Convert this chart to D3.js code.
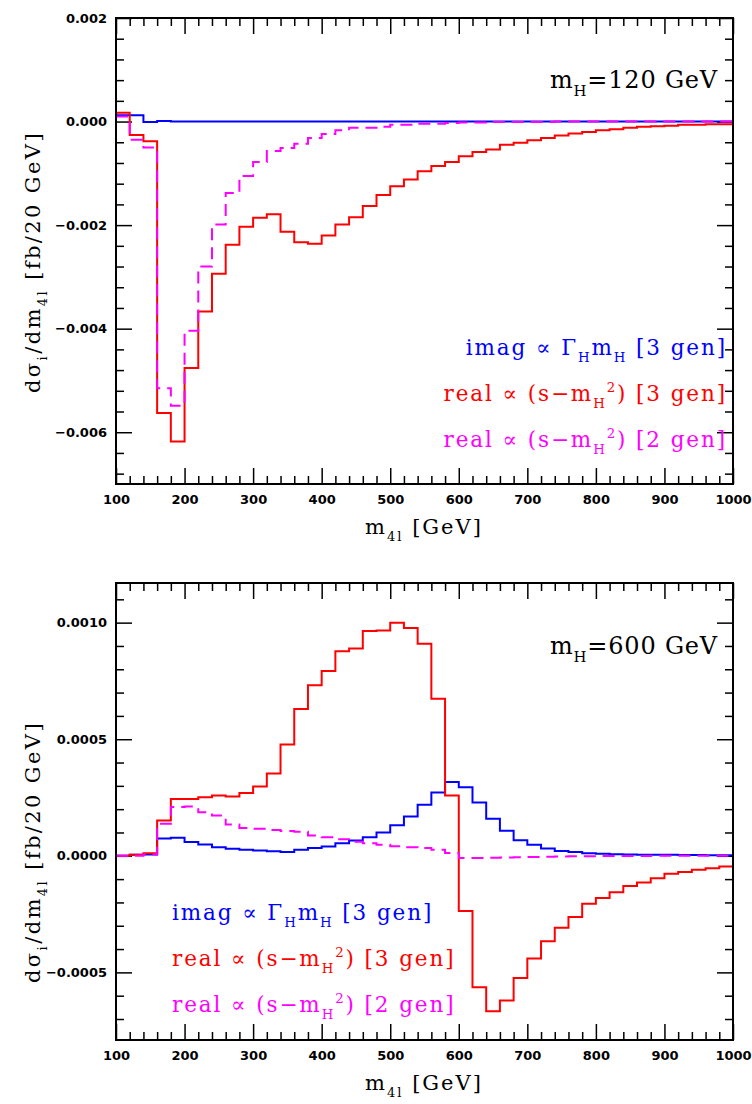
<!DOCTYPE html>
<html><head><meta charset="utf-8">
<script src="https://cdn.jsdelivr.net/npm/d3@7"></script>
<style>body{margin:0;background:#fff}</style></head>
<body>
<svg id="c" width="752" height="1104"></svg>
<script>
// bin lower edges (GeV), 20 GeV bins from 100 to 1000
const binEdges = [100,120,140,160,180,200,220,240,260,280,300,320,340,360,380,400,420,440,460,480,
                  500,520,540,560,580,600,620,640,660,680,700,720,740,760,780,800,820,840,860,880,
                  900,920,940,960,980];
const xMax = 1000;
const xMajorTicks = [100,200,300,400,500,600,700,800,900,1000];

// values in units of 1e-3 fb/20 GeV
// --- mH = 120 GeV ---
const imag120 = [0.12,0.12,-0.01,0.01,0,0,0,0,0,0,0,0,0,0,0,0,0,0,0,0,
                 0,0,0,0,0,0,0,0,0,0,0,0,0,0,0,0,0,0,0,0,0,0,0,0,0];
const real3gen120 = [0.17,-0.26,-0.38,-5.63,-6.18,-4.76,-3.67,-2.94,-2.38,-2.03,-1.86,-1.79,-2.13,-2.33,-2.36,-2.20,-1.99,-1.85,-1.63,-1.42,
                     -1.25,-1.12,-0.96,-0.86,-0.78,-0.67,-0.59,-0.54,-0.45,-0.41,-0.36,-0.32,-0.27,-0.23,-0.20,-0.17,-0.15,-0.12,-0.10,-0.09,
                     -0.08,-0.06,-0.06,-0.05,-0.05];
const real2gen120 = [0.10,-0.35,-0.50,-5.15,-5.49,-4.04,-2.80,-1.99,-1.38,-1.05,-0.78,-0.57,-0.51,-0.43,-0.32,-0.24,-0.17,-0.12,-0.12,-0.10,
                     -0.06,-0.06,-0.04,-0.04,-0.03,-0.02,-0.02,-0.01,-0.01,-0.01,-0.01,-0.01,0,0,0,0,0,0,0,0,
                     0,0,0,0,0];
// --- mH = 600 GeV ---
const imag600 = [0,0.004,0.006,0.074,0.077,0.059,0.049,0.037,0.030,0.026,0.023,0.019,0.016,0.026,0.033,0.040,0.054,0.066,0.080,0.100,
                 0.131,0.169,0.219,0.271,0.316,0.294,0.229,0.159,0.107,0.067,0.047,0.031,0.021,0.016,0.011,0.009,0.007,0.006,0.005,0.004,
                 0.004,0.003,0.003,0.002,0.002];
const real3gen600 = [0,0.005,0.011,0.151,0.244,0.244,0.251,0.259,0.254,0.269,0.297,0.353,0.477,0.630,0.731,0.793,0.877,0.889,0.964,0.966,
                     0.999,0.977,0.909,0.674,0.259,-0.237,-0.564,-0.667,-0.621,-0.524,-0.440,-0.367,-0.309,-0.263,-0.206,-0.181,-0.156,-0.130,-0.114,-0.096,
                     -0.077,-0.069,-0.060,-0.053,-0.046];
const real2gen600 = [0,0,0.006,0.137,0.209,0.211,0.187,0.173,0.134,0.119,0.116,0.111,0.106,0.103,0.087,0.080,0.071,0.060,0.054,0.047,
                     0.041,0.037,0.033,0.026,0.012,-0.009,-0.009,-0.008,-0.007,-0.006,-0.005,-0.004,-0.003,-0.002,-0.002,-0.001,-0.001,-0.001,-0.001,0,
                     0,0,0,0,0];

const yMajor120 = [2,0,-2,-4,-6];
const yMinor120 = [1.6,1.2,0.8,0.4,-0.4,-0.8,-1.2,-1.6,-2.4,-2.8,-3.2,-3.6,-4.4,-4.8,-5.2,-5.6,-6.4,-6.8];
const yMajor600 = [1.0,0.5,0,-0.5];
const yMinor600 = [1.1,0.9,0.8,0.7,0.6,0.4,0.3,0.2,0.1,-0.1,-0.2,-0.3,-0.4,-0.6,-0.7];

const svg = d3.select('#c');
const serif = "'DejaVu Serif', serif";
const sans = "'DejaVu Sans', sans-serif";

function rich(text, parts, size) {
  let shift = 0;
  parts.forEach(([t, m]) => {
    const target = m === 'sub' ? size*0.32 : m === 'sup' ? -size*0.42 : 0;
    const ts = text.append('tspan').attr('dy', target - shift).text(t);
    if (m) ts.attr('font-size', size*0.62);
    shift = target;
  });
}

function panel(cfg) {
  const L = 116, R = 733;
  const x = d3.scaleLinear().domain([100, 1000]).range([L, R]);
  const y = d3.scaleLinear().domain(cfg.yDomain).range([cfg.bottom, cfg.top]);
  const g = svg.append('g');
  const xMinor = d3.range(100, 1001, 20).filter(v => v % 100 !== 0);

  function ax(axis, tx, ty, vals, size, fmt, pad) {
    const a = g.append('g').attr('transform', `translate(${tx},${ty})`)
      .call(axis.tickValues(vals).tickSizeInner(-size).tickSizeOuter(0).tickPadding(pad||0).tickFormat(fmt || (() => '')));
    a.select('.domain').remove();
    a.selectAll('line').attr('stroke', '#000').attr('stroke-width', 1.5);
    a.selectAll('text').attr('font-family', sans).attr('font-weight', 'bold').attr('font-size', 13).attr('fill', '#000');
    return a;
  }
  ax(d3.axisBottom(x), 0, cfg.bottom, xMajorTicks, 16, d => d, 11);
  ax(d3.axisBottom(x), 0, cfg.bottom, xMinor, 8);
  ax(d3.axisTop(x), 0, cfg.top, xMajorTicks, 16);
  ax(d3.axisTop(x), 0, cfg.top, xMinor, 8);
  ax(d3.axisLeft(y), L, 0, cfg.yMajor, 16, cfg.fmt, 9);
  ax(d3.axisLeft(y), L, 0, cfg.yMinor, 8);
  ax(d3.axisRight(y), R, 0, cfg.yMajor, 16);
  ax(d3.axisRight(y), R, 0, cfg.yMinor, 8);

  const clipId = 'clip' + cfg.top;
  g.append('clipPath').attr('id', clipId).append('rect')
    .attr('x', L).attr('y', cfg.top).attr('width', R - L).attr('height', cfg.bottom - cfg.top);

  const line = d3.line().x(d => x(d[0])).y(d => y(d[1])).curve(d3.curveStepAfter);
  cfg.series.forEach(s => {
    const pts = binEdges.map((e, i) => [e, s.values[i]]);
    pts.push([xMax, s.values[s.values.length - 1]]);
    g.append('path').attr('d', line(pts)).attr('fill', 'none')
      .attr('stroke', s.color).attr('stroke-width', 2)
      .attr('stroke-dasharray', s.dash || null)
      .attr('clip-path', `url(#${clipId})`);
  });

  g.append('rect').attr('x', L).attr('y', cfg.top).attr('width', R - L).attr('height', cfg.bottom - cfg.top)
    .attr('fill', 'none').attr('stroke', '#000').attr('stroke-width', 2);

  // x title
  const xt = g.append('text').attr('x', 424).attr('y', cfg.bottom + 50).attr('text-anchor', 'middle')
    .attr('font-family', serif).attr('font-size', 21).attr('letter-spacing', 2).attr('fill', '#000');
  rich(xt, [['m', 0], ['4l', 'sub'], [' [GeV]', 0]], 21);

  // y title
  const yt = g.append('text').attr('transform', `translate(40,${cfg.yTitleY}) rotate(-90)`)
    .attr('text-anchor', 'middle').attr('font-family', serif).attr('font-size', 21)
    .attr('letter-spacing', 2.4).attr('fill', '#000');
  rich(yt, [['dσ', 0], ['i', 'sub'], ['/dm', 0], ['4l', 'sub'], [' [fb/20 GeV]', 0]], 21);

  // mass label
  const ml = g.append('text').attr('x', 718).attr('y', cfg.labelY).attr('text-anchor', 'end')
    .attr('font-family', serif).attr('font-size', 24).attr('letter-spacing', 0.8).attr('fill', '#000');
  rich(ml, [['m', 0], ['H', 'sub'], ['=' + cfg.mass + ' GeV', 0]], 24);

  // legend
  const lg = [
    {c: '#0000ff', p: [['imag ∝ Γ', 0], ['H', 'sub'], ['m', 0], ['H', 'sub'], [' [3 gen]', 0]]},
    {c: '#ff0000', p: [['real ∝ (s−m', 0], ['H', 'sub'], ['2', 'sup'], [') [3 gen]', 0]]},
    {c: '#ff00ff', p: [['real ∝ (s−m', 0], ['H', 'sub'], ['2', 'sup'], [') [2 gen]', 0]]}
  ];
  lg.forEach((l, i) => {
    const t = g.append('text').attr('x', cfg.legX).attr('y', cfg.legY + i * cfg.legDy)
      .attr('text-anchor', cfg.legAnchor).attr('font-family', serif).attr('font-size', 21.5)
      .attr('letter-spacing', 1.9).attr('fill', l.c);
    rich(t, l.p, 21.5);
  });
}

panel({
  top: 18, bottom: 484, yDomain: [-7, 2], yMajor: yMajor120, yMinor: yMinor120,
  fmt: d => (d === 0 ? '0.000' : (d < 0 ? '−' : '') + Math.abs(d * 1e-3).toFixed(3)),
  yTitleY: 262, labelY: 88, mass: 120,
  legX: 727, legY: 355, legDy: 46, legAnchor: 'end',
  series: [
    {values: imag120, color: '#0000ff'},
    {values: real3gen120, color: '#ff0000'},
    {values: real2gen120, color: '#ff00ff', dash: '12,7'}
  ]
});
panel({
  top: 583, bottom: 1040, yDomain: [-0.79, 1.17], yMajor: yMajor600, yMinor: yMinor600,
  fmt: d => (d === 0 ? '0.0000' : (d < 0 ? '−' : '') + Math.abs(d * 1e-3).toFixed(4)),
  yTitleY: 852, labelY: 654, mass: 600,
  legX: 172, legY: 920, legDy: 46, legAnchor: 'start',
  series: [
    {values: imag600, color: '#0000ff'},
    {values: real3gen600, color: '#ff0000'},
    {values: real2gen600, color: '#ff00ff', dash: '12,7'}
  ]
});
</script>
</body></html>
